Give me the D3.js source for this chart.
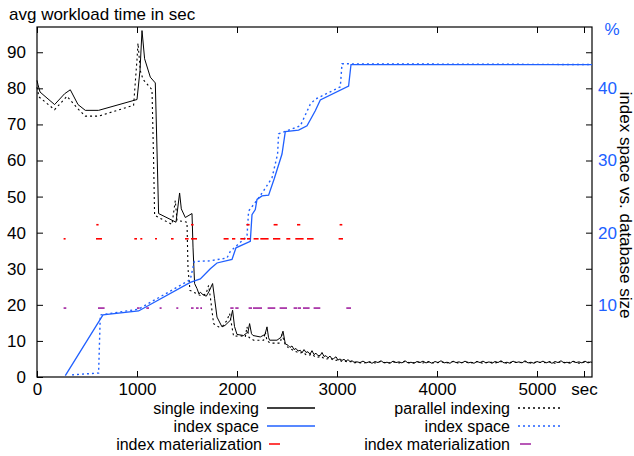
<!DOCTYPE html>
<html>
<head>
<meta charset="utf-8">
<script src="https://d3js.org/d3.v7.min.js"></script>
<style>
	body { margin: 0; background: #fff; }
	text { font-family: "Liberation Sans", Arial, sans-serif; font-size: 17px; }
	.legend text { font-size: 16px; }
</style>
</head>
<body>
<div id="chart"></div>
<script>
// x ticks (seconds) and their labels
const xTicks = [0, 1000, 2000, 3000, 4000, 5000, 5470];
const xTickLabels = ["0", "1000", "2000", "3000", "4000", "5000", "sec"];
const yTicks = [0, 10, 20, 30, 40, 50, 60, 70, 80, 90];
const y2Ticks = [5, 10, 15, 20, 25, 30, 35, 40, 45];

// avg workload time, single indexing [sec, value]
const singleTime = [
	[0, 82.2], [10, 81], [30, 79], [50, 78.5], [176, 75.5], [276, 78.5], [333, 79.6], [410, 75.5],
	[483, 73.9], [616, 73.9], [1000, 76.9], [1030, 85], [1050, 96], [1076, 88.2], [1133, 83.1],
	[1183, 81.5], [1216, 45.3], [1390, 42.9], [1426, 51], [1443, 46.6], [1483, 44.2], [1550, 45.3],
	[1560, 36], [1576, 25.9], [1600, 24.5], [1620, 23], [1633, 23.5], [1660, 22.8], [1693, 22.4],
	[1720, 23.7], [1756, 25.9], [1776, 21.7], [1800, 16.6], [1850, 13.9], [1880, 14.3], [1933, 15.7],
	[1956, 18.5], [1975, 14], [2000, 11.8], [2066, 11.5], [2110, 12.5], [2126, 14.8], [2145, 12],
	[2160, 11.5], [2233, 11.1], [2280, 11.8], [2300, 13.9], [2315, 11], [2326, 10.2], [2400, 10.2],
	[2440, 11], [2460, 12.7], [2483, 9.2], [2510, 8.8], [2530, 8.2], [2550, 8.6], [2570, 7.6],
	[2590, 7.9], [2610, 7.2], [2633, 7.4], [2650, 6.7], [2670, 7.6], [2690, 6.8], [2710, 7.0],
	[2730, 6.3], [2750, 7.3], [2770, 6.2], [2790, 6.6], [2810, 5.9], [2833, 6.0], [2850, 6.8],
	[2870, 5.7], [2890, 5.9], [2910, 5.3], [2930, 5.8], [2950, 5.0], [2966, 5.1], [2990, 5.6],
	[3010, 4.7], [3030, 5.0], [3050, 4.6], [3070, 4.9], [3090, 4.4], [3110, 4.8], [3130, 4.3],
	[3150, 4.5], [3170, 4.1], [3200, 4.2], [3230, 4.0], [3260, 4.4], [3290, 3.9], [3320, 4.2],
	[3350, 3.8], [3380, 4.3], [3410, 4.0], [3440, 4.5], [3470, 3.9], [3500, 4.1], [3530, 3.8],
	[3560, 4.4], [3590, 4.0], [3620, 4.2], [3650, 3.9], [3680, 4.5], [3710, 3.9], [3740, 4.1],
	[3770, 3.8], [3800, 4.3], [3830, 4.0], [3860, 4.4], [3890, 3.9], [3920, 4.2], [3950, 3.8],
	[3980, 4.3], [4010, 4.0], [4040, 4.5], [4070, 3.9], [4100, 4.1], [4130, 3.8], [4160, 4.4],
	[4190, 4.0], [4220, 4.2], [4250, 3.9], [4280, 4.4], [4310, 3.9], [4340, 4.1], [4370, 3.8],
	[4400, 4.3], [4430, 4.0], [4460, 4.4], [4490, 3.9], [4520, 4.2], [4550, 3.8], [4580, 4.3],
	[4610, 4.0], [4640, 4.5], [4670, 3.9], [4700, 4.1], [4730, 3.8], [4760, 4.4], [4790, 4.0],
	[4820, 4.2], [4850, 3.9], [4880, 4.5], [4910, 3.9], [4940, 4.1], [4970, 3.8], [5000, 4.3],
	[5030, 4.0], [5060, 4.4], [5090, 3.9], [5120, 4.2], [5150, 3.8], [5180, 4.3], [5210, 4.0],
	[5240, 4.5], [5270, 3.9], [5300, 4.1], [5330, 3.8], [5360, 4.4], [5390, 4.0], [5420, 4.2],
	[5450, 3.9], [5480, 4.4], [5510, 3.9], [5540, 4.2], [5550, 4.0]
];

// avg workload time, parallel indexing [sec, value]
const parallelTime = [
	[0, 80.3], [20, 77.6], [176, 74.1], [300, 77.8], [410, 74.3], [483, 72.3], [616, 72.3],
	[966, 75.3], [1000, 88], [1010, 92.5], [1033, 84.9], [1060, 82.5], [1150, 79.6], [1166, 60],
	[1176, 44.8], [1350, 42.3], [1383, 48.9], [1400, 43.4], [1500, 42.9], [1510, 30], [1530, 24],
	[1633, 22.6], [1690, 23], [1716, 25.4], [1733, 22.2], [1766, 14.8], [1816, 13.9], [1860, 14.2],
	[1900, 15.7], [1926, 17.6], [1966, 11.3], [2040, 11.4], [2083, 11.1], [2100, 13.9], [2120, 11],
	[2166, 10.2], [2266, 10.2], [2283, 12.5], [2300, 10], [2333, 9.4], [2433, 9.4], [2450, 11.8],
	[2483, 8.9], [2510, 8.2], [2540, 7.8], [2570, 7.2], [2600, 6.9], [2630, 6.6], [2660, 6.9],
	[2690, 6.2], [2720, 6.0], [2750, 6.4], [2780, 5.6], [2810, 5.5], [2840, 5.8], [2870, 5.1],
	[2900, 5.0], [2930, 5.3], [2960, 4.7], [2990, 4.6], [3020, 4.8], [3050, 4.3], [3080, 4.4],
	[3110, 4.1], [3140, 4.3], [3170, 3.9], [3200, 4.1], [3260, 3.8], [3320, 4.2], [3380, 3.9],
	[3440, 4.3], [3500, 3.8], [3560, 4.2], [3620, 3.9], [3680, 4.3], [3740, 3.8], [3800, 4.2],
	[3860, 3.9], [3920, 4.3], [3980, 3.8], [4040, 4.2], [4100, 3.9], [4160, 4.3], [4220, 3.8],
	[4280, 4.2], [4340, 3.9], [4400, 4.3], [4460, 3.8], [4520, 4.2], [4580, 3.9], [4640, 4.3],
	[4700, 3.8], [4760, 4.2], [4820, 3.9], [4880, 4.3], [4940, 3.8], [5000, 4.2], [5060, 3.9],
	[5120, 4.3], [5180, 3.8], [5240, 4.2], [5300, 3.9], [5360, 4.3], [5420, 3.8], [5480, 4.2],
	[5550, 4.0]
];

// index space vs database size in %, single indexing
const singleSpace = [
	[283, 0.2], [660, 8.6], [1016, 9.15], [1533, 13.1], [1633, 13.6], [1733, 15], [1800, 15.8],
	[1950, 16.3], [1990, 17.9], [2133, 18.8], [2150, 22.5], [2183, 23.2], [2200, 24.6], [2250, 25.1],
	[2316, 25.2], [2373, 27.5], [2450, 30.9], [2483, 34], [2616, 34.2], [2700, 34.8], [2783, 36.9],
	[2833, 38.4], [3116, 40.3], [3140, 43.3], [5550, 43.3]
];

// index space vs database size in %, parallel indexing
const parallelSpace = [
	[350, 0.3], [616, 0.55], [633, 8.6], [1016, 9.4], [1533, 13.5], [1573, 16], [1733, 16.1],
	[1900, 16.5], [1933, 17.4], [2100, 19.5], [2116, 23], [2200, 24.5], [2266, 25.8], [2350, 27.6],
	[2406, 30.9], [2416, 33.7], [2516, 34.2], [2633, 34.8], [2733, 37.8], [2783, 38.5], [3033, 40.2],
	[3050, 43.4], [5550, 43.3]
];

// index materialization intervals [start, end] in sec
const singleMat = [
	[266, 286], [590, 650], [973, 1000], [1033, 1053], [1180, 1200], [1340, 1366], [1480, 1516],
	[1540, 1600], [1866, 1916], [1950, 1983], [2033, 2083], [2100, 2133], [2166, 2216], [2233, 2316],
	[2360, 2433], [2493, 2533], [2583, 2666], [2700, 2766], [3016, 3060]
];
const singleMat2 = [[593, 616], [1540, 1566], [2093, 2126], [2366, 2406], [2600, 2633], [3026, 3053]];
const parallelMat = [
	[266, 293], [610, 676], [1000, 1026], [1093, 1120], [1226, 1246], [1393, 1413], [1540, 1566],
	[1590, 1616], [1633, 1650], [1933, 1966], [1983, 2016], [2116, 2150], [2160, 2250], [2306, 2383],
	[2426, 2500], [2566, 2600], [2606, 2640], [2660, 2726], [2766, 2833], [3093, 3140]
];
const singleMatLevel = 38.3;
const singleMat2Level = 42.2;
const parallelMatLevel = 19.1;

const BLUE = "#2060ff";
const RED = "#ff0000";
const PURPLE = "#a0209f";

function main() {

	const SVG_WIDTH = 634;
	const SVG_HEIGHT = 456;

	var margin = {top: 27, left: 37, right: 42, bottom: 79};
	var width = SVG_WIDTH - margin.left - margin.right;
	var height = SVG_HEIGHT - margin.top - margin.bottom;

	var root = d3.select("#chart")
		.append("svg")
		.attr("width", SVG_WIDTH)
		.attr("height", SVG_HEIGHT);

	var svg = root.append("g")
		.attr("transform", "translate(" + margin.left + "," + margin.top + ")");

	var x = d3.scaleLinear().domain([0, 5550]).range([0, width]);
	var y = d3.scaleLinear().domain([0, 97]).range([height, 0]);
	var y2 = d3.scaleLinear().domain([0, 48.5]).range([height, 0]);

	// axes, ticks pointing inwards like gnuplot
	svg.append("g")
		.attr("transform", "translate(0," + height + ")")
		.call(d3.axisBottom(x).tickValues(xTicks)
			.tickFormat((d, i) => xTickLabels[i])
			.tickSizeInner(-6).tickSizeOuter(0).tickPadding(6));
	svg.append("g")
		.call(d3.axisTop(x).tickValues(xTicks).tickFormat("")
			.tickSizeInner(-6).tickSizeOuter(0));
	svg.append("g")
		.call(d3.axisLeft(y).tickValues(yTicks)
			.tickSizeInner(-6).tickSizeOuter(0).tickPadding(11));
	var right = svg.append("g")
		.attr("transform", "translate(" + width + ",0)")
		.call(d3.axisRight(y2).tickValues(y2Ticks)
			.tickFormat(d => d % 10 === 0 ? d : "")
			.tickSizeInner(-6).tickSizeOuter(0).tickPadding(6));

	svg.selectAll(".domain").remove();
	svg.selectAll(".tick line").attr("stroke", "#000");
	svg.selectAll(".tick text").attr("font-size", 17).attr("fill", "#000");
	right.selectAll(".tick text").attr("fill", BLUE);

	// border
	svg.append("rect")
		.attr("width", width)
		.attr("height", height)
		.attr("fill", "none")
		.attr("stroke", "#000")
		.attr("stroke-width", 1.2);

	var lineY = d3.line().x(d => x(d[0])).y(d => y(d[1]));
	var lineY2 = d3.line().x(d => x(d[0])).y(d => y2(d[1]));

	svg.append("path").datum(parallelTime)
		.attr("d", lineY).attr("fill", "none")
		.attr("stroke", "#000").attr("stroke-width", 1.1)
		.attr("stroke-dasharray", "2,3");
	svg.append("path").datum(singleTime)
		.attr("d", lineY).attr("fill", "none")
		.attr("stroke", "#000").attr("stroke-width", 1);

	svg.append("path").datum(parallelSpace)
		.attr("d", lineY2).attr("fill", "none")
		.attr("stroke", BLUE).attr("stroke-width", 1.4)
		.attr("stroke-dasharray", "2,3");
	svg.append("path").datum(singleSpace)
		.attr("d", lineY2).attr("fill", "none")
		.attr("stroke", BLUE).attr("stroke-width", 1.3);

	// materialization segments
	function drawMat(data, level, color) {
		svg.append("g").selectAll("line")
			.data(data)
			.enter()
			.append("line")
			.attr("x1", d => x(d[0]))
			.attr("x2", d => x(d[1]))
			.attr("y1", y(level))
			.attr("y2", y(level))
			.attr("stroke", color)
			.attr("stroke-width", 1.6);
	}
	drawMat(singleMat, singleMatLevel, RED);
	drawMat(singleMat2, singleMat2Level, RED);
	drawMat(parallelMat, parallelMatLevel, PURPLE);

	// titles
	root.append("text")
		.attr("x", 9).attr("y", 20)
		.text("avg workload time in sec");
	root.append("text")
		.attr("x", 612).attr("y", 35)
		.attr("text-anchor", "middle")
		.attr("fill", BLUE)
		.text("%");
	root.append("text")
		.attr("transform", "translate(626,205) rotate(90)")
		.attr("text-anchor", "middle")
		.attr("dy", "0.35em")
		.text("index space vs. database size");

	// legend
	var legend = [
		{label: "single indexing", tx: 259, row: 0, x1: 267, x2: 315, color: "#000", dash: null},
		{label: "index space", tx: 259, row: 1, x1: 267, x2: 315, color: BLUE, dash: null},
		{label: "index materialization", tx: 262, row: 2, x1: 269, x2: 280, color: RED, dash: null},
		{label: "parallel indexing", tx: 510, row: 0, x1: 518, x2: 563, color: "#000", dash: "2,3"},
		{label: "index space", tx: 510, row: 1, x1: 518, x2: 563, color: BLUE, dash: "2,3"},
		{label: "index materialization", tx: 510, row: 2, x1: 520, x2: 531, color: PURPLE, dash: null}
	];
	var rowY = [408, 426, 444];

	var items = root.append("g").attr("class", "legend")
		.selectAll("g")
		.data(legend)
		.enter()
		.append("g");
	items.append("text")
		.attr("x", d => d.tx)
		.attr("y", d => rowY[d.row] + 6)
		.attr("text-anchor", "end")
		.text(d => d.label);
	items.append("line")
		.attr("x1", d => d.x1).attr("x2", d => d.x2)
		.attr("y1", d => rowY[d.row]).attr("y2", d => rowY[d.row])
		.attr("stroke", d => d.color)
		.attr("stroke-width", d => d.dash ? 1.3 : 1.5)
		.attr("stroke-dasharray", d => d.dash);
}

function whenDocumentLoaded(action) {
	if (document.readyState === "loading") {
		document.addEventListener("DOMContentLoaded", action);
	} else {
		action();
	}
}

whenDocumentLoaded(() => {
	main()
});
</script>
</body>
</html>
